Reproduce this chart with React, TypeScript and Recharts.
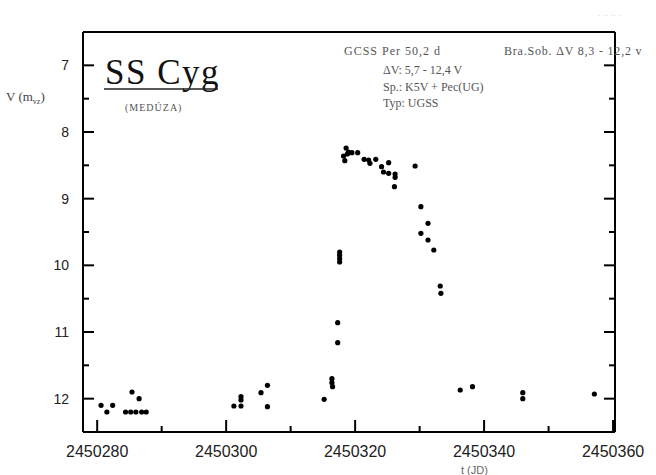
import React from 'react';
import { ScatterChart, Scatter, XAxis, YAxis } from 'recharts';

// Julian dates of observations
const jd = [
  2450280.6, 2450281.5, 2450282.4, 2450285.4, 2450286.5,
  2450284.4, 2450285.2, 2450286.0, 2450286.9, 2450287.6,
  2450301.2, 2450302.3, 2450302.3, 2450302.3, 2450305.4,
  2450306.4, 2450306.4, 2450315.2, 2450316.4, 2450316.4,
  2450316.5, 2450317.3, 2450317.3, 2450317.6, 2450317.6,
  2450317.6, 2450317.6,
  2450318.6, 2450318.2, 2450318.4, 2450318.95, 2450318.8,
  2450319.5, 2450320.4, 2450321.4, 2450322.1, 2450322.3,
  2450323.2, 2450324.1, 2450325.2, 2450324.4, 2450325.2,
  2450326.2, 2450326.2, 2450326.1, 2450329.3, 2450330.2,
  2450331.3, 2450330.2, 2450331.3, 2450332.2, 2450333.2,
  2450333.3, 2450336.3, 2450338.2, 2450346.0, 2450346.0,
  2450357.1,
];
// V magnitudes
const mag = [
  12.10, 12.20, 12.10, 11.90, 12.00,
  12.20, 12.20, 12.20, 12.20, 12.20,
  12.11, 12.11, 11.97, 12.02, 11.91,
  11.80, 12.12, 12.01, 11.70, 11.76,
  11.82, 11.16, 10.86, 9.80, 9.85,
  9.90, 9.95,
  8.24, 8.36, 8.43, 8.30, 8.33,
  8.31, 8.31, 8.41, 8.42, 8.47,
  8.41, 8.52, 8.46, 8.60, 8.62,
  8.63, 8.68, 8.82, 8.51, 9.12,
  9.37, 9.52, 9.62, 9.77, 10.31,
  10.42, 11.87, 11.82, 11.91, 12.00,
  11.93,
];

const xTicks = [2450280, 2450290, 2450300, 2450310, 2450320, 2450330, 2450340, 2450350, 2450360];
const xMajor = [2450280, 2450300, 2450320, 2450340, 2450360];
const yTicks = [7, 7.5, 8, 8.5, 9, 9.5, 10, 10.5, 11, 11.5, 12];
const yMajor = [7, 8, 9, 10, 11, 12];

const xDomain = [2450277.8, 2450360.3];
const yDomain = [6.5, 12.5];

const data = jd.map((t, i) => ({ t, v: mag[i] }));

const SANS = '"Liberation Sans", Arial, sans-serif';
const SERIF = '"Liberation Serif", "Times New Roman", serif';

const BottomTick = (props: any) => {
  const { x, y, payload } = props;
  const major = xMajor.includes(payload.value);
  return (
    <g>
      <line x1={x} x2={x} y1={y} y2={y - (major ? 12 : 6)} stroke="#000" strokeWidth={2} />
      {major && (
        <text x={x} y={y + 25} textAnchor="middle" fontFamily={SANS} fontSize={16} fill="#222">
          {payload.value}
        </text>
      )}
    </g>
  );
};

const TopTick = (props: any) => {
  const { x, y, payload } = props;
  const major = xMajor.includes(payload.value);
  return <line x1={x} x2={x} y1={y} y2={y + (major ? 8 : 5)} stroke="#000" strokeWidth={2} />;
};

const LeftTick = (props: any) => {
  const { x, y, payload } = props;
  const major = yMajor.includes(payload.value);
  return (
    <g>
      <line x1={x} x2={x + (major ? 11 : 6)} y1={y} y2={y} stroke="#000" strokeWidth={2} />
      {major && (
        <text x={x - 14} y={y + 5} textAnchor="end" fontFamily={SANS} fontSize={14} fill="#222">
          {payload.value}
        </text>
      )}
    </g>
  );
};

const RightTick = (props: any) => {
  const { x, y, payload } = props;
  const major = yMajor.includes(payload.value);
  return <line x1={x} x2={x - (major ? 11 : 6)} y1={y} y2={y} stroke="#000" strokeWidth={2} />;
};

const Dot = (props: any) => <circle cx={props.cx} cy={props.cy} r={2.6} fill="#000" />;

export default function App() {
  return (
    <div style={{ position: 'absolute', left: 0, top: 0, width: 656, height: 475, background: '#fff' }}>
      <ScatterChart width={656} height={475} margin={{ top: 22, right: 31, bottom: 13, left: 43 }}>
        <XAxis
          xAxisId="b"
          dataKey="t"
          type="number"
          domain={xDomain}
          allowDataOverflow
          ticks={xTicks}
          interval={0}
          height={30}
          tickSize={0}
          tickMargin={0}
          tickLine={false}
          axisLine={{ stroke: '#000', strokeWidth: 2 }}
          tick={<BottomTick />}
        />
        <XAxis
          xAxisId="t"
          orientation="top"
          type="number"
          domain={xDomain}
          allowDataOverflow
          ticks={xTicks}
          interval={0}
          height={10}
          tickSize={0}
          tickMargin={0}
          tickLine={false}
          axisLine={{ stroke: '#000', strokeWidth: 2 }}
          tick={<TopTick />}
        />
        <YAxis
          yAxisId="l"
          dataKey="v"
          type="number"
          domain={yDomain}
          reversed
          allowDataOverflow
          ticks={yTicks}
          interval={0}
          width={40}
          tickSize={0}
          tickMargin={0}
          tickLine={false}
          axisLine={{ stroke: '#000', strokeWidth: 2 }}
          tick={<LeftTick />}
        />
        <YAxis
          yAxisId="r"
          orientation="right"
          type="number"
          domain={yDomain}
          reversed
          allowDataOverflow
          ticks={yTicks}
          interval={0}
          width={10}
          tickSize={0}
          tickMargin={0}
          tickLine={false}
          axisLine={{ stroke: '#000', strokeWidth: 2 }}
          tick={<RightTick />}
        />
        <Scatter
          data={data}
          xAxisId="b"
          yAxisId="l"
          shape={<Dot />}
          isAnimationActive={false}
        />
      </ScatterChart>
      <svg
        width={656}
        height={475}
        style={{ position: 'absolute', left: 0, top: 0, pointerEvents: 'none' }}
      >
        <text x={598} y={18} fontFamily={SANS} fontSize={8} fill="#ccc">· ·· ·· ·</text>
        <text x={105} y={84} fontFamily={SERIF} fontSize={35} letterSpacing={1.5} fill="#111">SS Cyg</text>
        <line x1={104} x2={218} y1={89} y2={89} stroke="#222" strokeWidth={1.5} />
        <text x={125} y={111} fontFamily={SERIF} fontSize={10} letterSpacing={1} fill="#555">(MEDÚZA)</text>
        <text x={6} y={101} fontFamily={SERIF} fontSize={13} fill="#444">
          V (m<tspan fontSize={8} dy={3}>vz</tspan><tspan dy={-3}>)</tspan>
        </text>
        <text x={344} y={55} fontFamily={SERIF} fontSize={12} letterSpacing={1} fill="#555">GCSS  Per 50,2 d</text>
        <text x={504} y={55} fontFamily={SERIF} fontSize={12} letterSpacing={0.8} fill="#555">Bra.Sob.  ΔV  8,3 - 12,2 v</text>
        <text x={383} y={74} fontFamily={SERIF} fontSize={12} fill="#555">ΔV: 5,7 - 12,4 V</text>
        <text x={383} y={91} fontFamily={SERIF} fontSize={12} fill="#555">Sp.: K5V + Pec(UG)</text>
        <text x={383} y={107} fontFamily={SERIF} fontSize={12} fill="#555">Typ: UGSS</text>
        <text x={461} y={474} fontFamily={SANS} fontSize={11} fill="#666">t (JD)</text>
      </svg>
    </div>
  );
}
